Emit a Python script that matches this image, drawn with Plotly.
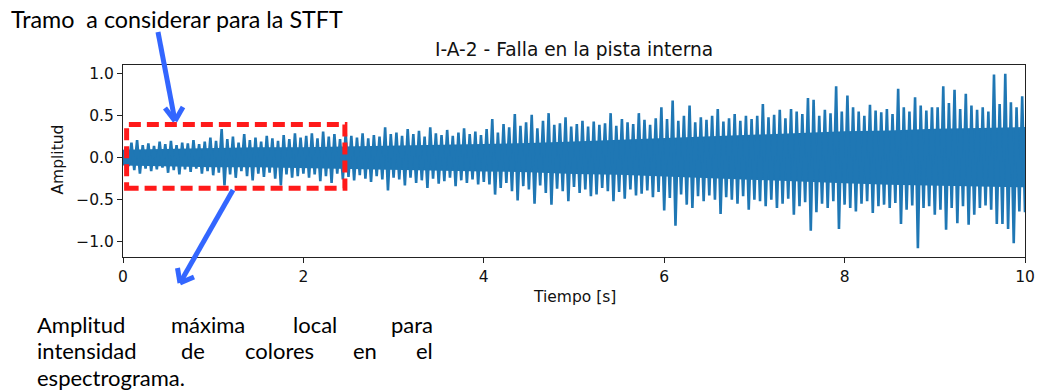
import numpy as np
import plotly.graph_objects as go

# ---------------- data ----------------
# Vibration record I-A-2 (inner-race fault), 10 s.
# Impulse peaks, 16 impulses per second: positive crest and negative trough of each impact.
peak_pos = [
    0.12, 0.18, 0.21, 0.15, 0.17, 0.14, 0.19, 0.16, 0.20, 0.15, 0.18, 0.17, 0.21, 0.16, 0.19, 0.24,
    0.20, 0.34, 0.22, 0.25, 0.18, 0.28, 0.21, 0.24, 0.19, 0.26, 0.23, 0.20, 0.27, 0.22, 0.29, 0.24,
    0.26, 0.29, 0.23, 0.31, 0.25, 0.28, 0.22, 0.30, 0.26, 0.24, 0.29, 0.23, 0.27, 0.25, 0.36, 0.28,
    0.30, 0.26, 0.34, 0.28, 0.32, 0.25, 0.36, 0.29, 0.27, 0.33, 0.26, 0.30, 0.35, 0.28, 0.31, 0.27,
    0.34, 0.46, 0.30, 0.40, 0.36, 0.52, 0.38, 0.42, 0.51, 0.35, 0.44, 0.53, 0.39, 0.41, 0.48, 0.37,
    0.40, 0.44, 0.37, 0.43, 0.39, 0.41, 0.53, 0.38, 0.46, 0.42, 0.40, 0.53, 0.45, 0.39, 0.47, 0.60,
    0.46, 0.68, 0.44, 0.50, 0.62, 0.42, 0.48, 0.45, 0.50, 0.58, 0.43, 0.47, 0.52, 0.44, 0.50, 0.46,
    0.50, 0.64, 0.48, 0.51, 0.57, 0.47, 0.58, 0.55, 0.52, 0.71, 0.69, 0.50, 0.57, 0.53, 0.85, 0.55,
    0.74, 0.60, 0.55, 0.50, 0.63, 0.56, 0.54, 0.58, 0.52, 0.82, 0.60, 0.55, 0.72, 0.62, 0.56, 0.60,
    0.60, 0.85, 0.65, 0.81, 0.58, 0.76, 0.62, 0.57, 0.60, 0.55, 0.99, 0.64, 1.00, 0.66, 0.60, 0.73,
]
peak_neg = [
    -0.10, -0.15, -0.19, -0.13, -0.16, -0.14, -0.12, -0.18, -0.15, -0.20, -0.14, -0.17, -0.13, -0.19, -0.16, -0.21,
    -0.18, -0.33, -0.20, -0.24, -0.16, -0.22, -0.27, -0.19, -0.23, -0.18, -0.25, -0.33, -0.20, -0.24, -0.22, -0.19,
    -0.24, -0.20, -0.28, -0.22, -0.30, -0.19, -0.26, -0.23, -0.27, -0.21, -0.25, -0.29, -0.22, -0.26, -0.39, -0.24,
    -0.26, -0.33, -0.24, -0.30, -0.27, -0.36, -0.25, -0.31, -0.28, -0.24, -0.34, -0.27, -0.30, -0.26, -0.32, -0.29,
    -0.32, -0.44, -0.36, -0.30, -0.40, -0.51, -0.34, -0.38, -0.55, -0.33, -0.42, -0.56, -0.37, -0.40, -0.52, -0.35,
    -0.42, -0.38, -0.46, -0.44, -0.36, -0.40, -0.52, -0.41, -0.49, -0.38, -0.45, -0.43, -0.39, -0.47, -0.41, -0.63,
    -0.48, -0.81, -0.44, -0.56, -0.60, -0.46, -0.52, -0.45, -0.50, -0.67, -0.47, -0.50, -0.55, -0.46, -0.62, -0.50,
    -0.52, -0.58, -0.50, -0.60, -0.55, -0.49, -0.68, -0.58, -0.53, -0.87, -0.65, -0.55, -0.60, -0.52, -0.85, -0.56,
    -0.60, -0.64, -0.55, -0.52, -0.66, -0.58, -0.56, -0.60, -0.54, -0.79, -0.62, -0.57, -1.08, -0.60, -0.58, -0.68,
    -0.62, -0.86, -0.60, -0.78, -0.58, -0.80, -0.68, -0.60, -0.57, -0.62, -0.79, -0.79, -0.85, -1.02, -0.64, -0.65,
]
impacts_per_second = 16

# Dense background vibration: upper / lower envelope every 0.5 s
band_t = [0.0, 0.5, 1.0, 1.5, 2.0, 2.5, 3.0, 3.5, 4.0, 4.5, 5.0,
          5.5, 6.0, 6.5, 7.0, 7.5, 8.0, 8.5, 9.0, 9.5, 10.0]
band_hi = [0.08, 0.09, 0.10, 0.11, 0.11, 0.12, 0.13, 0.14, 0.15, 0.16, 0.18,
           0.20, 0.22, 0.24, 0.26, 0.28, 0.30, 0.31, 0.33, 0.34, 0.35]
band_lo = [-0.08, -0.09, -0.10, -0.10, -0.11, -0.12, -0.13, -0.14, -0.15, -0.16, -0.18,
           -0.19, -0.21, -0.23, -0.25, -0.27, -0.29, -0.31, -0.32, -0.33, -0.34]

# Segment used for the STFT (seconds / amplitude)
stft_t = [0.04, 2.46]
stft_amp = [-0.364, 0.395]

x_ticks = [0, 2, 4, 6, 8, 10]
y_ticks = [-1.0, -0.5, 0.0, 0.5, 1.0]
y_ticktext = ["\u22121.0", "\u22120.5", "0.0", "0.5", "1.0"]

TITLE = "I-A-2 - Falla en la pista interna"
XLABEL = "Tiempo [s]"
YLABEL = "Amplitud"
NOTE_TOP = "Tramo  a considerar para la STFT"
NOTE_BOTTOM = [
    ["Amplitud", "máxima", "local", "para"],
    ["intensidad", "de", "colores", "en", "el"],
    ["espectrograma."],
]

# ---------------- figure ----------------
W, H = 1037, 392
ML, MR, MT, MB = 123, 12, 65, 135
PW, PH = W - ML - MR, H - MT - MB


def px(x):
    return (x - ML) / PW


def py(y):
    return (H - MB - y) / PH


BLUE = "#1f77b4"
AXFONT = "DejaVu Sans"
NOTEFONT = "Lato"

n = len(peak_pos)
t_imp = (np.arange(n) + 0.5) / impacts_per_second
half = 0.5 / impacts_per_second
sig_t = [0.0]
sig_v = [0.0]
for k in range(n):
    sig_t += [t_imp[k], t_imp[k] + half]
    sig_v += [peak_pos[k], peak_neg[k]]

fig = go.Figure()
fig.add_trace(go.Scatter(
    x=band_t + band_t[::-1], y=band_hi + band_lo[::-1],
    fill="toself", fillcolor=BLUE, mode="lines",
    line=dict(color=BLUE, width=2.3), hoverinfo="skip",
))
fig.add_trace(go.Scatter(
    x=sig_t, y=sig_v, mode="lines",
    line=dict(color=BLUE, width=2.6), hoverinfo="skip",
))

axis_common = dict(
    showline=True, mirror=True, linecolor="#222222", linewidth=1.2,
    ticks="outside", ticklen=5, tickwidth=1.2, tickcolor="#222222",
    showgrid=False, zeroline=False, automargin=False,
    tickfont=dict(family=AXFONT, size=15.5, color="#111111"),
)
fig.update_xaxes(range=[0, 10], tickvals=x_ticks, ticktext=[str(v) for v in x_ticks], **axis_common)
fig.update_yaxes(range=[-1.184, 1.104], tickvals=y_ticks, ticktext=y_ticktext, **axis_common)

shapes = [
    dict(type="rect", xref="x", yref="y",
         x0=stft_t[0], x1=stft_t[1], y0=stft_amp[0], y1=stft_amp[1],
         line=dict(color="#ff1a1a", width=5, dash="12px,6px")),
]
ARROW = "#3366ff"
arrows = [
    [(158, 32), (175, 121), (165, 108), (183, 107)],
    [(233, 190), (180, 283), (177.5, 268), (194, 277)],
]
for start, tip, arm1, arm2 in arrows:
    for a, b in [(start, tip), (arm1, tip), (arm2, tip)]:
        shapes.append(dict(type="line", xref="paper", yref="paper",
                           x0=px(a[0]), y0=py(a[1]), x1=px(b[0]), y1=py(b[1]),
                           line=dict(color=ARROW, width=5)))

ann = []


def text(x, y, s, size, family, xanchor="center", angle=0, color="#111111"):
    ann.append(dict(x=px(x), y=py(y), xref="paper", yref="paper", text=s,
                    showarrow=False, xanchor=xanchor, yanchor="middle",
                    textangle=angle, font=dict(family=family, size=size, color=color)))


text(574, 49, TITLE, 18.6, AXFONT)
text(574, 297, XLABEL, 15.5, AXFONT)
text(57.5, 160, YLABEL, 15.5, AXFONT, angle=-90)
text(9, 19, NOTE_TOP, 23.3, NOTEFONT, xanchor="left", color="#000000")

# justified paragraph: first word left, last word right, others centred
left_edge, right_edge = 35, 435
line_y = [324, 350.5, 377]
inner_centres = [[208, 315], [192.5, 279, 365], []]
for words, yy, centres in zip(NOTE_BOTTOM, line_y, inner_centres):
    text(left_edge, yy, words[0], 22, NOTEFONT, xanchor="left", color="#000000")
    if len(words) > 1:
        for w, c in zip(words[1:-1], centres):
            text(c, yy, w, 22, NOTEFONT, color="#000000")
        text(right_edge, yy, words[-1], 22, NOTEFONT, xanchor="right", color="#000000")

fig.update_layout(
    width=W, height=H, margin=dict(l=ML, r=MR, t=MT, b=MB),
    paper_bgcolor="white", plot_bgcolor="white", showlegend=False,
    shapes=shapes, annotations=ann,
)

fig.write_html("out.html")
